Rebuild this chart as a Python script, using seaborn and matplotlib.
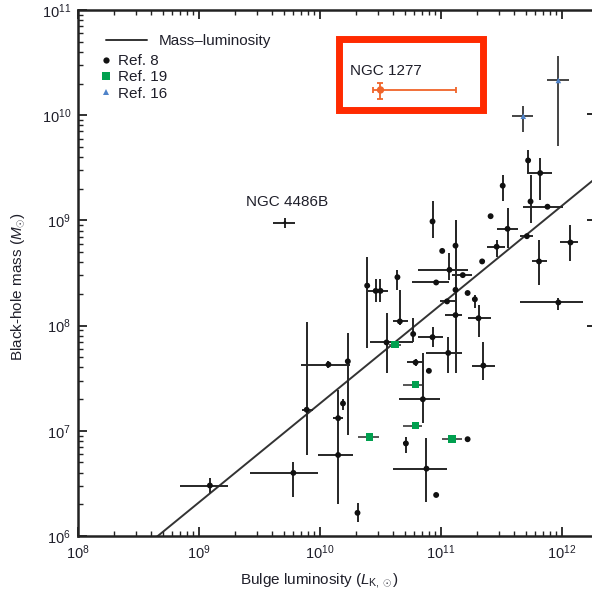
import numpy as np
import pandas as pd
import matplotlib
matplotlib.use("Agg")
import matplotlib.pyplot as plt
import seaborn as sns
from matplotlib.patches import Rectangle
from matplotlib.lines import Line2D

# ---------------------------------------------------------------
# Data (all values are log10; *_lo / *_hi give the error-bar ends)
# ---------------------------------------------------------------
# Ref. 8 sample: bulge K-band luminosity and black-hole mass
ref8_logL = [9.09, 9.78, 9.89, 10.15, 10.15, 10.19, 10.07, 10.23, 10.39, 10.46,
             10.50, 10.64, 10.66, 10.55, 10.77, 10.79, 10.90, 10.93, 11.06, 11.35,
             10.85, 10.88, 10.96, 10.71, 11.22, 10.31, 11.07, 11.18, 10.96, 11.12,
             11.22, 11.28, 11.05, 11.12, 11.31, 11.01, 11.34, 11.46, 11.81, 11.97,
             12.07, 11.12, 10.93, 11.41, 11.55, 11.71, 11.74, 11.88, 11.51, 11.72,
             11.82, 12.31, 12.31, 12.31]
ref8_logL_lo = [8.84, 9.42, 9.85, 9.98, 10.11, 10.17, 9.84, 10.21, 10.37, 10.40,
                10.48, 10.62, 10.60, 10.41, 10.75, 10.72, 10.88, 10.81, 10.88, 11.26,
                10.65, 10.60, 10.94, 10.69, 11.20, 10.29, 10.81, 11.09, 10.76, 11.10,
                11.20, 11.26, 10.99, 11.03, 11.22, 10.99, 11.32, 11.38, 11.75, 11.65,
                11.98, 11.10, 10.91, 11.39, 11.46, 11.65, 11.72, 11.68, 11.49, 11.70,
                11.71, 12.21, 12.21, 12.21]
ref8_logL_hi = [9.24, 9.98, 9.94, 10.27, 10.19, 10.21, 10.25, 10.25, 10.41, 10.56,
                10.52, 10.66, 10.73, 10.77, 10.79, 10.85, 10.92, 11.02, 11.17, 11.45,
                10.99, 11.05, 10.98, 10.73, 11.24, 10.33, 11.22, 11.26, 11.07, 11.14,
                11.24, 11.30, 11.12, 11.17, 11.41, 11.03, 11.36, 11.53, 11.88, 12.17,
                12.13, 11.14, 10.95, 11.43, 11.64, 11.76, 11.76, 12.01, 11.53, 11.74,
                11.92, 12.40, 12.40, 12.40]
ref8_logM = [6.48, 6.60, 7.20, 6.77, 7.12, 7.26, 7.63, 7.66, 8.38, 8.33,
             8.33, 8.46, 8.04, 7.84, 7.92, 7.65, 7.57, 7.89, 7.74, 7.62,
             7.30, 6.64, 6.39, 6.88, 6.92, 6.22, 8.53, 8.48, 8.41, 8.34,
             8.31, 8.25, 8.23, 8.10, 8.07, 8.71, 8.61, 8.75, 8.61, 8.22,
             8.79, 8.76, 8.99, 9.04, 8.92, 8.85, 9.18, 9.13, 9.33, 9.57,
             9.45, 10.01, 9.00, 8.00]
ref8_logM_lo = [6.41, 6.37, 6.77, 6.30, 7.09, 7.20, 7.60, 6.96, 7.79, 8.22,
                8.22, 8.34, 8.01, 7.55, 7.84, 7.62, 7.55, 7.80, 7.55, 7.48,
                7.07, 6.32, 6.37, 6.79, 6.90, 6.13, 8.43, 8.46, 8.39, 7.55,
                8.29, 8.17, 8.21, 7.74, 7.89, 8.69, 8.59, 8.65, 8.39, 8.15,
                8.61, 8.53, 8.83, 9.02, 8.74, 8.83, 8.98, 9.11, 9.18, 9.45,
                9.19, 9.99, 8.98, 7.98]
ref8_logM_hi = [6.55, 6.70, 8.03, 7.39, 7.15, 7.30, 7.66, 7.93, 8.65, 8.44,
                8.44, 8.53, 8.34, 8.12, 8.07, 7.68, 7.59, 7.99, 7.89, 7.84,
                7.74, 6.93, 6.41, 6.94, 6.94, 6.31, 8.69, 8.50, 8.43, 9.00,
                8.33, 8.29, 8.25, 8.43, 8.20, 8.73, 8.63, 8.81, 8.81, 8.26,
                8.96, 9.00, 9.18, 9.06, 9.12, 8.87, 9.43, 9.15, 9.43, 9.67,
                9.59, 10.03, 9.02, 8.02]

# Ref. 19 sample
ref19_logL = [10.62, 10.79, 10.41, 10.79, 11.09]
ref19_logL_lo = [10.57, 10.69, 10.31, 10.69, 11.01]
ref19_logL_hi = [10.67, 10.84, 10.49, 10.84, 11.17]
ref19_logM = [7.82, 7.44, 6.94, 7.05, 6.92]
ref19_logM_lo = [7.80, 7.42, 6.92, 7.03, 6.90]
ref19_logM_hi = [7.84, 7.46, 6.96, 7.07, 6.94]

# Ref. 16 sample
ref16_logL = [11.97, 11.68]
ref16_logL_lo = [11.88, 11.59]
ref16_logL_hi = [12.06, 11.76]
ref16_logM = [10.33, 9.99]
ref16_logM_lo = [9.71, 9.84]
ref16_logM_hi = [10.56, 10.09]

# Individually labelled galaxies
ngc4486b = dict(logL=9.71, logL_lo=9.61, logL_hi=9.79, logM=8.98, logM_lo=8.93, logM_hi=9.02)
ngc1277 = dict(logL=10.50, logL_lo=10.44, logL_hi=11.12, logM=10.24, logM_lo=10.15, logM_hi=10.31)

# Mass-luminosity relation: log M = a + b (log L - 11)
rel_a, rel_b = 8.20, 0.94

# ---------------------------------------------------------------
def frame(logL, lo_L, hi_L, logM, lo_M, hi_M):
    return pd.DataFrame({"L": 10 ** np.asarray(logL, float),
                         "L_lo": 10 ** np.asarray(lo_L, float),
                         "L_hi": 10 ** np.asarray(hi_L, float),
                         "M": 10 ** np.asarray(logM, float),
                         "M_lo": 10 ** np.asarray(lo_M, float),
                         "M_hi": 10 ** np.asarray(hi_M, float)})


def bars(ax, df, color, lw=1.4, caps=0, z=2):
    ax.errorbar(df["L"], df["M"],
                xerr=[df["L"] - df["L_lo"], df["L_hi"] - df["L"]],
                yerr=[df["M"] - df["M_lo"], df["M_hi"] - df["M"]],
                fmt="none", ecolor=color, elinewidth=lw, capsize=caps,
                capthick=lw, zorder=z)


df8 = frame(ref8_logL, ref8_logL_lo, ref8_logL_hi, ref8_logM, ref8_logM_lo, ref8_logM_hi)
df19 = frame(ref19_logL, ref19_logL_lo, ref19_logL_hi, ref19_logM, ref19_logM_lo, ref19_logM_hi)
df16 = frame(ref16_logL, ref16_logL_lo, ref16_logL_hi, ref16_logM, ref16_logM_lo, ref16_logM_hi)
dfB = frame([ngc4486b["logL"]], [ngc4486b["logL_lo"]], [ngc4486b["logL_hi"]],
            [ngc4486b["logM"]], [ngc4486b["logM_lo"]], [ngc4486b["logM_hi"]])
dfN = frame([ngc1277["logL"]], [ngc1277["logL_lo"]], [ngc1277["logL_hi"]],
            [ngc1277["logM"]], [ngc1277["logM_lo"]], [ngc1277["logM_hi"]])

sns.set_theme(style="ticks")
plt.rcParams["font.family"] = ["Liberation Sans", "DejaVu Sans"]
plt.rcParams["mathtext.fontset"] = "custom"
plt.rcParams["mathtext.rm"] = "Liberation Sans"
plt.rcParams["mathtext.it"] = "Liberation Sans:italic"
plt.rcParams["mathtext.bf"] = "Liberation Sans:bold"

TXT = "#1f1f2a"
INK = "#262626"

fig = plt.figure(figsize=(5.92, 5.94), dpi=100)
ax = fig.add_axes([78 / 592, 58 / 594, 514 / 592, 526 / 594])
ax.set_xscale("log")
ax.set_yscale("log")
ax.set_xlim(1e8, 10 ** 12.248)
ax.set_ylim(1e6, 1e11)

# relation line
grid = np.linspace(8.0, 12.4, 50)
sns.lineplot(x=10 ** grid, y=10 ** (rel_a + rel_b * (grid - 11.0)), ax=ax,
             color="#333333", lw=1.4, zorder=1)

# error bars
bars(ax, df8, INK)
bars(ax, dfB, INK)
bars(ax, df19, "#555555")
bars(ax, df16, "#444444")
bars(ax, dfN, "#f0642a", lw=1.3, caps=2.5, z=4)

# markers
sns.scatterplot(data=df8, x="L", y="M", ax=ax, color="#111111", marker="o",
                s=18, edgecolor="none", zorder=3, legend=False)
sns.scatterplot(data=dfB, x="L", y="M", ax=ax, color="#111111", marker="o",
                s=4, edgecolor="none", zorder=3, legend=False)
sns.scatterplot(data=df19, x="L", y="M", ax=ax, color="#00a04f", marker="s",
                s=30, edgecolor="none", zorder=3, legend=False)
sns.scatterplot(data=df16, x="L", y="M", ax=ax, color="#4f83c9", marker="^",
                s=16, edgecolor="none", zorder=3, legend=False)
sns.scatterplot(data=dfN, x="L", y="M", ax=ax, color="#f0642a", marker="o",
                s=28, edgecolor="none", zorder=5, legend=False)

# labels of individual galaxies
ax.text(10 ** 9.39, 10 ** 9.175, "NGC 4486B", fontsize=11, color=TXT,
        ha="left", va="center")
ax.text(10 ** 10.25, 10 ** 10.42, "NGC 1277", fontsize=11, color=TXT,
        ha="left", va="center")

# highlight box around NGC 1277
bx0, bx1, by0, by1 = 10.161, 11.351, 10.054, 10.720
ax.add_patch(Rectangle((10 ** bx0, 10 ** by0), 10 ** bx1 - 10 ** bx0,
                       10 ** by1 - 10 ** by0, fill=False, edgecolor="#ff2a00",
                       lw=5, zorder=6, clip_on=False))

# legends
leg1 = ax.legend([Line2D([], [], color="#333333", lw=1.4)], ["Mass\u2013luminosity"],
                 loc="upper left", bbox_to_anchor=(0.0545, 0.954), frameon=False,
                 handlelength=2.7, handletextpad=0.72, borderpad=0, borderaxespad=0,
                 fontsize=11, labelcolor=TXT)
ax.add_artist(leg1)
h8 = Line2D([], [], ls="none", marker="o", color="#111111", markersize=4.5, markeredgewidth=0)
h19 = Line2D([], [], ls="none", marker="s", color="#00a04f", markersize=5.5, markeredgewidth=0)
h16 = Line2D([], [], ls="none", marker="^", color="#4f83c9", markersize=4.5, markeredgewidth=0)
ax.legend([h8, h19, h16], ["Ref. 8", "Ref. 19", "Ref. 16"], loc="upper left",
          bbox_to_anchor=(0.0457, 0.916), frameon=False, handlelength=0.6,
          handletextpad=0.5, labelspacing=0.15, borderpad=0, borderaxespad=0,
          fontsize=11, labelcolor=TXT)

# axes styling
ax.set_xlabel(r"Bulge luminosity ($L_{\mathrm{K},\odot}$)", fontsize=11, color=TXT)
ax.set_ylabel(r"Black-hole mass ($M_{\odot}$)", fontsize=11, color=TXT)
ax.xaxis.set_label_coords((320 - 78) / 514, -(571 - 536) / 526)
ax.yaxis.set_label_coords(-(78 - 27) / 514, (536 - 287) / 526)

for side in ("left", "bottom", "top"):
    ax.spines[side].set_linewidth(1.8)
    ax.spines[side].set_color("#222222")
ax.spines["right"].set_visible(False)
ax.tick_params(which="both", direction="in", top=True, right=False,
               colors="#222222", labelcolor=TXT, labelsize=10.5)
ax.tick_params(which="major", length=6.5, width=1.3, pad=5)
ax.tick_params(which="minor", length=3.5, width=1.0)
ax.grid(False)

fig.savefig("out.png", dpi=100)
